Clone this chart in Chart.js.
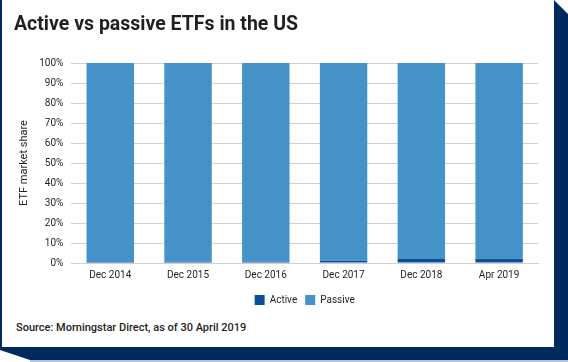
<!DOCTYPE html>
<html><head><meta charset="utf-8">
<script src="https://cdn.jsdelivr.net/npm/chart.js@4/dist/chart.umd.min.js"></script>
<style>
html,body{margin:0;padding:0;width:568px;height:362px;overflow:hidden;background:#fff;}
#wrap{position:relative;width:568px;height:362px;overflow:hidden;}
#leftbar{position:absolute;left:0;top:0;width:2px;height:348px;background:#002a5e;}
#rightband{position:absolute;left:554px;top:0;width:14px;height:360px;background:#002a5e;clip-path:polygon(0 0,0 0,100% 14px,100% 100%,0 100%);z-index:3;}
#bottomband{position:absolute;left:0;top:347px;width:568px;height:13px;background:#002a5e;clip-path:polygon(0 0,100% 0,100% 100%,30px 100%,0 3px);z-index:3;}
#bottomline{position:absolute;left:30px;top:360px;width:538px;height:2px;background:#b9c4d3;}
#title{position:absolute;left:14px;top:12px;font-family:Roboto,'Liberation Sans',sans-serif;font-weight:700;font-size:19.5px;color:#231f20;white-space:nowrap;z-index:2;}
#source{position:absolute;left:16px;top:321px;font-family:Roboto,'Liberation Sans',sans-serif;font-weight:500;font-size:11px;color:#231f20;white-space:nowrap;z-index:2;}
#c{position:absolute;left:0;top:0;}
</style></head>
<body><div id="wrap">
<canvas id="c" width="568" height="315" style="width:568px;height:315px"></canvas>
<div id="leftbar"></div><div id="rightband"></div><div id="bottomband"></div><div id="bottomline"></div>
<div id="title">Active vs passive ETFs in the US</div>
<div id="source">Source: Morningstar Direct, as of 30 April 2019</div>
</div>
<script>
const categories = ["Dec 2014","Dec 2015","Dec 2016","Dec 2017","Dec 2018","Apr 2019"];
const activeShare = [0.5, 0.6, 0.6, 1.1, 2.0, 2.1];
const passiveShare = [99.5, 99.4, 99.4, 98.9, 98.0, 97.9];
const seriesNames = ["Active","Passive"];
const yTicks = [0,10,20,30,40,50,60,70,80,90,100];
const yTitle = "ETF market share";

const fam = "Roboto,'Liberation Sans',sans-serif";
const centerLegendOnPlot = {
  id: 'centerLegendOnPlot',
  afterLayout(chart) {
    const l = chart.legend, a = chart.chartArea;
    if (l && a) { l.left = a.left; l.right = a.right; l.width = a.right - a.left; }
  }
};
new Chart(document.getElementById('c'), {
  type: 'bar',
  data: {
    labels: categories,
    datasets: [
      {label: seriesNames[0], data: activeShare, backgroundColor: '#0b4f9b', borderWidth: 0, barPercentage: 0.61, categoryPercentage: 1},
      {label: seriesNames[1], data: passiveShare, backgroundColor: '#4592c9', borderWidth: 0, barPercentage: 0.61, categoryPercentage: 1}
    ]
  },
  plugins: [centerLegendOnPlot],
  options: {
    responsive: false,
    animation: false,
    layout: {padding: {top: 63, left: 12, right: 30, bottom: 0}},
    plugins: {
      legend: {
        position: 'bottom',
        labels: {boxWidth: 10, boxHeight: 10, padding: 8, color: '#231f20', font: {family: fam, size: 10}}
      },
      tooltip: {enabled: false}
    },
    scales: {
      x: {
        stacked: true,
        grid: {display: false, drawTicks: false},
        border: {display: true, color: '#d0d0d0'},
        ticks: {color: '#231f20', font: {family: fam, size: 10}, padding: 6, maxRotation: 0}
      },
      y: {
        stacked: true,
        min: 0, max: 100,
        afterBuildTicks: (axis) => { axis.ticks = yTicks.map(v => ({value: v})); },
        grid: {color: '#d0d0d0', drawTicks: false},
        border: {display: false},
        ticks: {color: '#231f20', font: {family: fam, size: 10}, padding: 8, callback: v => v + '%'},
        title: {display: true, text: yTitle, color: '#231f20', font: {family: fam, size: 11}, padding: {top: 6, bottom: 0}}
      }
    }
  }
});
</script>
</body></html>
